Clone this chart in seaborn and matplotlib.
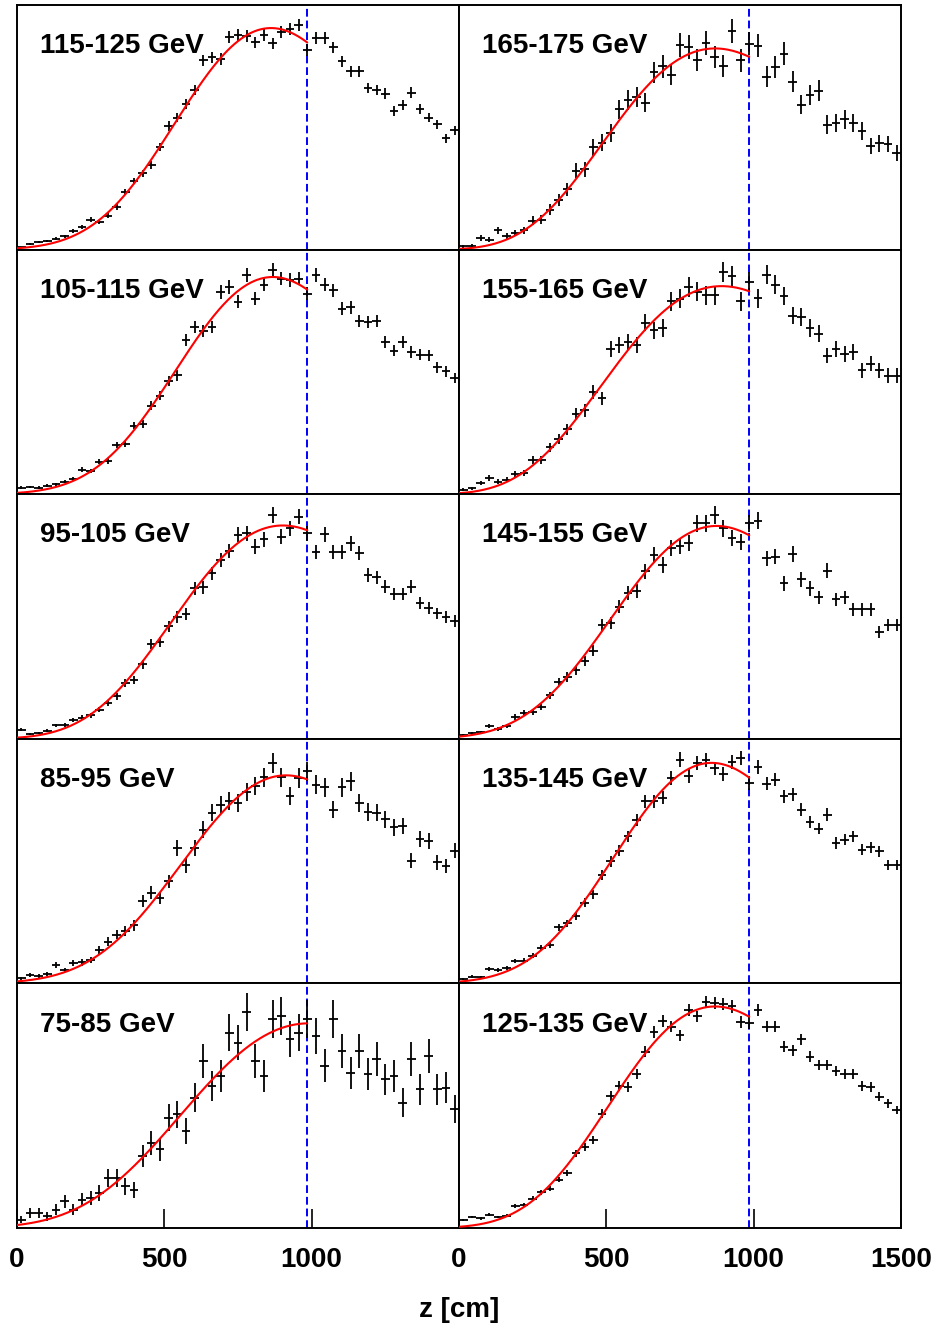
import numpy as np
import pandas as pd
import matplotlib
matplotlib.use("Agg")
import matplotlib.pyplot as plt
import seaborn as sns

# ---- binning -------------------------------------------------------------
N_BINS = 51
Z_MIN, Z_MAX = 0.0, 1500.0
Z_FIT_END = 985.0          # upper edge of the fit range (dashed line)

# ---- energy slices (left column top->bottom, right column top->bottom) ----
labels_left = ["115-125 GeV", "105-115 GeV", "95-105 GeV", "85-95 GeV", "75-85 GeV"]
labels_right = ["165-175 GeV", "155-165 GeV", "145-155 GeV", "135-145 GeV", "125-135 GeV"]

# ---- entries per z bin ------------------------------------------------------
c_115_125 = [14, 36, 44, 52, 66, 80, 110, 134, 180, 164, 204, 256, 344, 410, 456, 506, 616,
             740, 790, 870, 954, 1134, 1150, 1140, 1270, 1284, 1280, 1240, 1284, 1234, 1300,
             1320, 1344, 1196, 1264, 1264, 1210, 1126, 1066, 1066, 966, 954, 934, 830, 864,
             940, 840, 790, 750, 666, 714]
c_105_115 = [30, 32, 30, 38, 44, 56, 68, 110, 105, 146, 150, 221, 225, 308, 315, 398, 443,
             510, 533, 693, 750, 731, 750, 908, 930, 863, 983, 878, 941, 1005, 968, 960, 968,
             900, 983, 941, 915, 833, 840, 777, 773, 777, 683, 645, 683, 638, 626, 623, 570,
             551, 522]
c_95_105 = [34, 19, 21, 31, 50, 53, 71, 79, 88, 109, 134, 159, 209, 221, 278, 354, 363, 421,
            456, 466, 563, 566, 619, 669, 703, 763, 769, 719, 746, 838, 756, 788, 831, 769,
            700, 765, 700, 700, 731, 694, 613, 604, 569, 541, 541, 569, 509, 488, 469, 456, 441]
c_85_95 = [11, 19, 17, 20, 41, 30, 45, 47, 53, 75, 94, 109, 118, 130, 184, 204, 191, 229, 304,
           265, 304, 345, 383, 400, 410, 405, 430, 443, 463, 495, 463, 420, 461, 476, 446, 440,
           390, 440, 454, 405, 385, 383, 368, 350, 353, 275, 323, 320, 272, 263, 298]
c_75_85 = [5, 9, 9, 7, 11, 16, 11, 17, 18, 21, 30, 30, 25, 23, 43, 51, 47, 66, 68, 58, 78, 100,
           85, 91, 117, 111, 129, 100, 91, 125, 127, 113, 117, 125, 115, 97, 125, 106, 93, 106,
           92, 101, 89, 91, 75, 101, 83, 103, 83, 84, 71]
c_165_175 = [5, 6, 17, 15, 29, 20, 25, 29, 43, 45, 60, 74, 90, 118, 120, 153, 160, 174, 210,
             224, 228, 220, 265, 274, 262, 306, 303, 284, 309, 288, 275, 327, 283, 308, 305,
             259, 273, 293, 251, 217, 231, 238, 187, 189, 195, 189, 178, 155, 159, 158, 145]
c_155_165 = [10, 13, 25, 36, 28, 32, 45, 47, 77, 77, 105, 124, 146, 180, 188, 229, 215, 325,
             335, 341, 335, 385, 368, 373, 433, 439, 465, 454, 446, 446, 499, 490, 433, 476,
             440, 493, 470, 445, 401, 398, 373, 360, 311, 326, 315, 319, 278, 293, 278, 266, 266]
c_145_155 = [10, 17, 20, 37, 30, 37, 65, 77, 80, 95, 130, 170, 185, 205, 233, 263, 340, 347,
             395, 437, 443, 502, 550, 520, 572, 577, 585, 645, 645, 670, 630, 600, 590, 645,
             653, 540, 545, 465, 553, 477, 450, 423, 503, 417, 423, 387, 387, 387, 320, 340, 340]
c_135_145 = [20, 30, 27, 65, 60, 68, 101, 102, 125, 161, 173, 251, 270, 303, 363, 401, 488,
             548, 596, 660, 735, 818, 818, 833, 923, 1005, 930, 990, 1001, 965, 941, 995, 1010,
             900, 971, 896, 915, 840, 848, 780, 725, 695, 758, 630, 645, 660, 600, 611, 593,
             533, 530]
c_125_135 = [46, 66, 58, 78, 66, 74, 130, 138, 176, 214, 234, 290, 330, 446, 484, 526, 684,
             790, 850, 846, 924, 1054, 1174, 1240, 1206, 1154, 1306, 1266, 1354, 1346, 1340,
             1326, 1234, 1226, 1306, 1206, 1206, 1084, 1064, 1130, 1026, 974, 974, 940, 920,
             920, 850, 846, 786, 746, 706]

counts_left = [c_115_125, c_105_115, c_95_105, c_85_95, c_75_85]
counts_right = [c_165_175, c_155_165, c_145_155, c_135_145, c_125_135]

# ---- Gaisser-Hillas fit parameters (Nmax, zmax, z0, lambda) ----------------
fit_nmax_left = [1326, 975, 798, 467, 122.5]
fit_zmax_left = [862, 868, 902, 913, 990]
fit_z0_left = [-1000, -1000, -500, -1200, -800]
fit_lam_left = [57.8, 58.7, 103.9, 60.7, 106.5]

fit_nmax_right = [301, 467, 637, 990, 1326]
fit_zmax_right = [869, 891, 874, 857, 869]
fit_z0_right = [-300, -300, -800, -1000, -500]
fit_lam_right = [126.5, 141.0, 78.6, 60.5, 97.8]

# vertical range of each panel
ymax_left = [1464, 1098, 915, 549, 146.4]
ymax_right = [366, 549, 732, 1098, 1464]

# axis tick labels of the bottom row
ticks_left = [0, 500, 1000]
ticks_right = [0, 500, 1000, 1500]


def gaisser_hillas(z, nmax, zmax, z0, lam):
    m = (zmax - z0) / lam
    return nmax * ((z - z0) / (zmax - z0)) ** m * np.exp((zmax - z) / lam)


sns.set_theme(style="white")
plt.rcParams["font.family"] = ["Liberation Sans", "DejaVu Sans"]
plt.rcParams["font.weight"] = "bold"
plt.rcParams["text.color"] = "black"
plt.rcParams["xtick.color"] = "black"
plt.rcParams["xtick.labelcolor"] = "black"

fig, axes = plt.subplots(5, 2, figsize=(9.37, 13.30), dpi=100)
fig.subplots_adjust(left=17 / 937, right=901 / 937, top=1 - 5 / 1330,
                    bottom=1 - 1228 / 1330, wspace=0, hspace=0)

edges = np.linspace(Z_MIN, Z_MAX, N_BINS + 1)
centers = 0.5 * (edges[:-1] + edges[1:])
half_w = 0.5 * (edges[1] - edges[0])
z_fit = np.linspace(Z_MIN, Z_FIT_END, 400)

columns = [
    (labels_left, counts_left, fit_nmax_left, fit_zmax_left, fit_z0_left, fit_lam_left,
     ymax_left, ticks_left),
    (labels_right, counts_right, fit_nmax_right, fit_zmax_right, fit_z0_right, fit_lam_right,
     ymax_right, ticks_right),
]

for col, (labs, cnts, nmx, zmx, z0s, lams, ymx, ticks) in enumerate(columns):
    for row in range(5):
        ax = axes[row, col]
        y = np.asarray(cnts[row], dtype=float)
        ax.errorbar(centers, y, xerr=half_w, yerr=np.sqrt(y), fmt="none",
                    ecolor="black", elinewidth=1.3, capsize=0, zorder=3)
        fit_df = pd.DataFrame({"z": z_fit,
                               "n": gaisser_hillas(z_fit, nmx[row], zmx[row], z0s[row], lams[row])})
        sns.lineplot(data=fit_df, x="z", y="n", ax=ax, color="red", linewidth=1.5, zorder=4)
        ax.axvline(Z_FIT_END, color="blue", linestyle=(0, (4, 2)), linewidth=1.4, zorder=2)
        ax.set_xlim(Z_MIN, Z_MAX)
        ax.set_ylim(0, ymx[row])
        ax.set_xlabel("")
        ax.set_ylabel("")
        ax.set_yticks([])
        ax.text(0.053, 0.803, labs[row], transform=ax.transAxes, fontsize=20,
                fontweight="bold", ha="left", va="baseline", color="black", zorder=5)
        for sp in ax.spines.values():
            sp.set_color("black")
            sp.set_linewidth(1.4)
        if row < 4:
            ax.set_xticks([])
        else:
            ax.set_xticks(ticks)
            ax.set_xticklabels([str(t) for t in ticks])
            ax.tick_params(axis="x", direction="in", length=14, width=1.2, color="black",
                           bottom=True, pad=14, labelsize=20, labelcolor="black")
            for lab in ax.get_xticklabels():
                lab.set_fontweight("bold")

fig.text(459 / 937, 1 - 1310 / 1330, "z [cm]", ha="center", va="center",
         fontsize=20, fontweight="bold", color="black")

fig.savefig("out.png", dpi=100)
